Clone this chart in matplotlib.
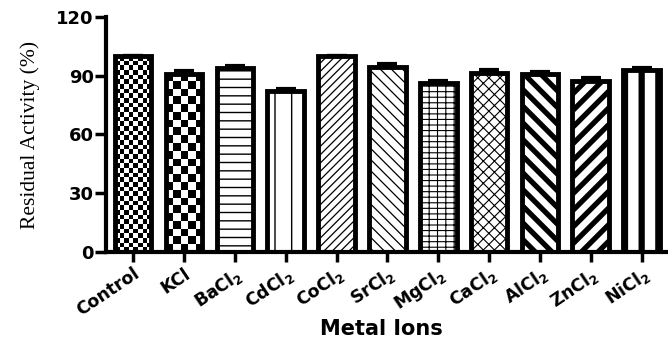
import numpy as np
import matplotlib
matplotlib.use("Agg")
import matplotlib.pyplot as plt
from matplotlib.transforms import ScaledTranslation

ions = ["Control", "KCl", "BaCl$_2$", "CdCl$_2$", "CoCl$_2$", "SrCl$_2$",
        "MgCl$_2$", "CaCl$_2$", "AlCl$_2$", "ZnCl$_2$", "NiCl$_2$"]
activity = [100, 91, 94, 82, 100, 94.5, 86.5, 91.5, 91, 87.5, 93]
errors = [0, 1.3, 1.2, 1.0, 0, 1.3, 1.0, 1.3, 1.0, 1.3, 1.0]
# hatch pattern and hatch line width per bar (None -> checkerboard image)
hatches = [None, None, "--", "|", "////", "\\\\\\", "++-", "xxx", "\\\\", "//", "|"]
hatch_lw = [1, 1, 1.0, 1.0, 0.9, 0.9, 0.8, 0.8, 3.8, 3.8, 4.5]
checker_cells = {0: (8, 42), 1: (5, 23)}

plt.rcParams["mathtext.default"] = "regular"

fig = plt.figure(figsize=(6.68, 3.47), dpi=100)
ax = fig.add_axes([0.159, 0.274, 0.841, 0.677])

x = np.arange(len(ions))
bars = []
for i in range(len(ions)):
    face = "none" if hatches[i] is None else "white"
    with plt.rc_context({"hatch.linewidth": hatch_lw[i]}):
        b = ax.bar(x[i], activity[i], width=0.72, color=face,
                   edgecolor="black", linewidth=3.5, hatch=hatches[i], zorder=2)[0]
        if hasattr(b, "set_hatch_linewidth"):
            b.set_hatch_linewidth(hatch_lw[i])
    bars.append(b)

ax.errorbar(x, activity, yerr=[np.zeros(len(x)), errors], fmt="none",
            ecolor="black", elinewidth=2.5, capsize=7, capthick=3, zorder=1)

# checkerboard fills for Control (fine) and KCl (coarse)
for i, (nx, ny) in checker_cells.items():
    b = bars[i]
    checker = (np.add.outer(np.arange(ny), np.arange(nx)) % 2).astype(float)
    im = ax.imshow(checker, cmap="gray", extent=[b.get_x(), b.get_x() + b.get_width(),
                   0, b.get_height()], aspect="auto", interpolation="nearest",
                   zorder=1.5, origin="lower")
    im.set_clip_path(b)

ax.set_xlim(-0.53, 10.52)
ax.set_ylim(0, 120)
ax.set_yticks([0, 30, 60, 90, 120])
ax.set_xticks(x)
ax.set_xticklabels(ions, rotation=34, ha="right", rotation_mode="anchor",
                   fontsize=12.5, fontweight="bold", family="DejaVu Sans")
shift = ScaledTranslation(-2 / 72, 0, fig.dpi_scale_trans)
for lab in ax.get_xticklabels():
    lab.set_transform(lab.get_transform() + shift)
for lab in ax.get_yticklabels():
    lab.set_fontsize(13)
    lab.set_fontweight("bold")
    lab.set_family("DejaVu Sans")

ax.spines["top"].set_visible(False)
ax.spines["right"].set_visible(False)
ax.spines["left"].set_linewidth(3)
ax.spines["bottom"].set_linewidth(3)
ax.tick_params(axis="y", direction="out", length=8, width=2.5, pad=1)
ax.tick_params(axis="x", direction="out", length=7, width=2.5, pad=2)

ax.set_ylabel("Residual Activity (%)", family="Liberation Serif", fontsize=15.5)
ax.yaxis.set_label_coords(-0.118, 0.5)
ax.set_xlabel("Metal Ions", family="DejaVu Sans", fontsize=15, fontweight="bold")
ax.xaxis.set_label_coords(0.49, -0.285)

fig.savefig("out.png", dpi=100)
